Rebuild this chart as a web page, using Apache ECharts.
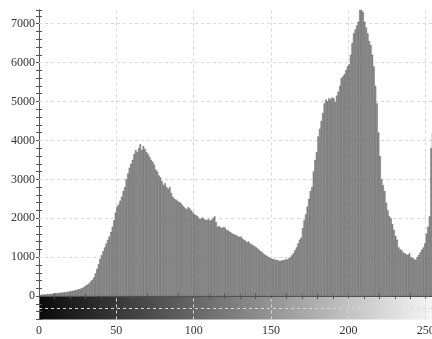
<!DOCTYPE html>
<html>
<head>
<meta charset="utf-8">
<script src="https://cdn.jsdelivr.net/npm/echarts@6/dist/echarts.min.js"></script>
<style>
  html, body { margin: 0; padding: 0; background: #fff; }
  #chart { width: 432px; height: 339px; }
</style>
</head>
<body>
<div id="chart"></div>
<script>
// Gray-level histogram: pixel count for each intensity 0..255
const levels = Array.from({ length: 256 }, (_, i) => i);
const counts = [
  30, 35, 40, 40, 45, 50, 50, 55, 60, 65,
  75, 70, 85, 80, 90, 95, 100, 95, 110, 120,
  125, 135, 140, 150, 160, 175, 185, 200, 220, 245,
  280, 300, 330, 380, 420, 480, 580, 700, 820, 950,
  1050, 1150, 1250, 1350, 1450, 1530, 1650, 1780, 1950, 2150,
  2300, 2350, 2450, 2550, 2700, 2800, 3000, 3150, 3300, 3400,
  3500, 3650, 3750, 3700, 3800, 3900, 3750, 3850, 3780, 3700,
  3650, 3580, 3500, 3450, 3380, 3250, 3200, 3100, 3050, 2950,
  2850, 2900, 2800, 2750, 2800, 2650, 2550, 2500, 2480, 2450,
  2420, 2400, 2350, 2300, 2260, 2230, 2280, 2250, 2200, 2150,
  2100, 2080, 2050, 2000, 1980, 2020, 1990, 1960, 1950, 1980,
  1940, 1960, 2000, 2050, 1900, 1780, 1800, 1760, 1750, 1780,
  1740, 1700, 1680, 1650, 1620, 1600, 1580, 1560, 1540, 1520,
  1530, 1480, 1450, 1420, 1380, 1400, 1350, 1330, 1300, 1280,
  1250, 1220, 1180, 1150, 1120, 1080, 1050, 1030, 1000, 980,
  960, 950, 940, 920, 930, 900, 910, 930, 920, 950,
  940, 970, 1000, 1050, 1100, 1180, 1250, 1350, 1450, 1500,
  1750, 1950, 2100, 2300, 2500, 2700, 2800, 3200, 3500, 3700,
  4100, 4300, 4500, 4700, 4950, 5050, 5000, 5080, 5050, 5100,
  5080, 4980, 5150, 5250, 5400, 5600, 5650, 5700, 5800, 5900,
  5950, 6200, 6500, 6750, 6850, 6950, 7050, 7350, 7350, 7300,
  7050, 6900, 6750, 6550, 6450, 6200, 5900, 5400, 4950, 4200,
  3600, 3000, 2850, 2700, 2400, 2200, 2050, 2000, 1850, 1700,
  1550, 1450, 1250, 1200, 1180, 1120, 1100, 1070, 1060, 1100,
  1000, 980, 950, 930, 1000, 1060, 1120, 1190, 1250, 1360,
  1600, 1780, 2050, 3800, 4200, 4500
];
const xTicks = [0, 50, 100, 150, 200, 250];
const yTicks = [0, 1000, 2000, 3000, 4000, 5000, 6000, 7000];

const chart = echarts.init(document.getElementById('chart'), null, { renderer: 'canvas' });

const labelFont = { fontFamily: 'Liberation Serif', fontSize: 12, color: '#333' };
const axisLineStyle = { lineStyle: { color: '#555', width: 1 } };

const xBase = {
  type: 'value', min: 0, max: 256, interval: 10,
  axisLine: Object.assign({ show: true }, axisLineStyle),
  axisTick: { show: true, inside: true, length: 3, lineStyle: { color: '#555' } },
  minorTick: { show: false },
  splitLine: { show: false }
};
const yBase = {
  type: 'value', min: -600, max: 7350, interval: 200,
  axisLine: Object.assign({ show: true }, axisLineStyle),
  axisTick: { show: true, inside: true, length: 3, lineStyle: { color: '#555' } },
  splitLine: { show: false }
};

chart.setOption({
  animation: false,
  backgroundColor: '#fff',
  // the plot box runs a few pixels past the right edge of the canvas
  grid: {
    left: 39, top: 10, width: 396, height: 309.5,
    containLabel: false, outerBoundsMode: 'none'
  },
  xAxis: [
    Object.assign({}, xBase, {
      position: 'bottom',
      axisLabel: Object.assign({
        margin: 5,
        formatter: v => (xTicks.indexOf(v) >= 0 ? String(v) : '')
      }, labelFont)
    }),
    Object.assign({}, xBase, { position: 'top', axisLabel: { show: false } })
  ],
  yAxis: [
    Object.assign({}, yBase, {
      position: 'left',
      axisLabel: Object.assign({
        margin: 4,
        formatter: v => (yTicks.indexOf(v) >= 0 ? String(v) : '')
      }, labelFont)
    }),
    Object.assign({}, yBase, { position: 'right', axisLabel: { show: false } })
  ],
  series: [
    {
      // intensity scale strip under the histogram
      type: 'line', data: [], silent: true, z: 0,
      markArea: {
        silent: true, z: 0,
        itemStyle: {
          color: new echarts.graphic.LinearGradient(0, 0, 1, 0, [
            { offset: 0, color: '#0a0a0a' },
            { offset: 1, color: '#f6f6f6' }
          ])
        },
        data: [[{ coord: [0, -600] }, { coord: [256, 0] }]]
      }
    },
    {
      // dashed reference grid
      type: 'line', data: [], silent: true, z: 1,
      markLine: {
        symbol: 'none', silent: true, z: 1, label: { show: false },
        lineStyle: { color: '#d8d8d8', type: [3, 3], width: 1 },
        data: xTicks.filter(v => v > 0).map(v => ({ xAxis: v }))
          .concat(yTicks.filter(v => v > 0).map(v => ({ yAxis: v })))
          .concat([{ yAxis: -300 }])
      }
    },
    {
      type: 'bar',
      barWidth: '100%',
      data: levels.map((l, i) => [l + 0.5, counts[i]]),
      itemStyle: { color: '#a0a0a0', borderColor: '#404040', borderWidth: 0.4 },
      z: 2
    }
  ]
});
</script>
</body>
</html>
